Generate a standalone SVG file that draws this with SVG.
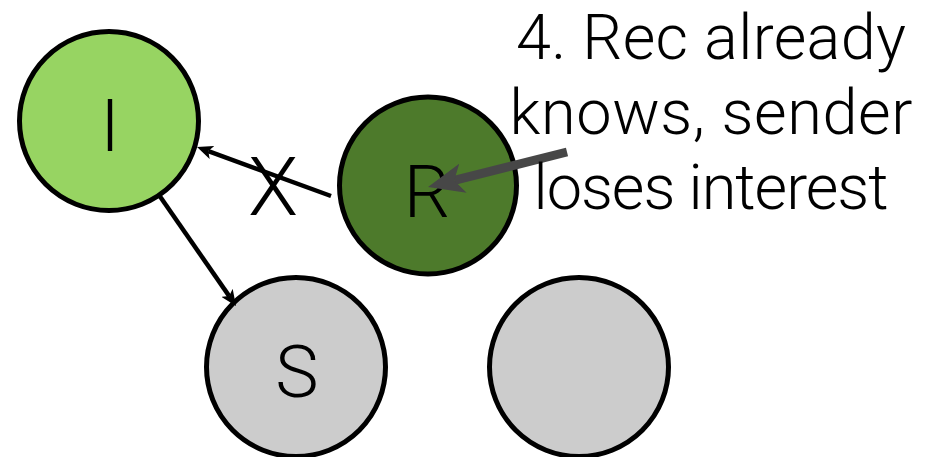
<svg xmlns="http://www.w3.org/2000/svg" width="927" height="457" viewBox="0 0 927 457">
  <defs>
    <style>
      .node { stroke: #000; stroke-width: 5; }
      .label { font-family: Roboto, "Liberation Sans", Arial, sans-serif; font-weight: 300; font-size: 73px; fill: #000; text-anchor: middle; }
      .note { font-family: Roboto, "Liberation Sans", Arial, sans-serif; font-weight: 300; font-size: 63px; fill: #000; text-anchor: middle; }
      .edge { stroke: #000; stroke-width: 4.5; fill: none; }
      .pointer { stroke: #474747; stroke-width: 9; fill: none; }
    </style>
    <marker id="head" markerUnits="userSpaceOnUse" markerWidth="16" markerHeight="14" viewBox="0 0 16 14" refX="4" refY="7" orient="auto">
      <path d="M16,7 L0,0 L4,7 L0,14 Z" fill="#000"/>
    </marker>
    <marker id="head-gray" markerUnits="userSpaceOnUse" markerWidth="36" markerHeight="30" viewBox="0 0 36 30" refX="9" refY="15" orient="auto">
      <path d="M36,15 L0,0 L9,15 L0,30 Z" fill="#474747"/>
    </marker>
  </defs>

  <g id="node-I">
    <circle class="node" cx="109" cy="121" r="89.5" fill="#97d462"/>
    <text class="label" x="110" y="151">I</text>
  </g>

  <g id="node-R">
    <circle class="node" cx="428" cy="185.5" r="88.5" fill="#4d7a2b"/>
    <text class="label" x="427" y="217">R</text>
  </g>

  <g id="node-S">
    <circle class="node" cx="296" cy="367" r="89.5" fill="#cccccc"/>
    <text class="label" x="297" y="397">S</text>
  </g>

  <g id="node-empty">
    <circle class="node" cx="579" cy="367" r="89.5" fill="#cccccc"/>
  </g>

  <g id="connectors">
    <line class="edge" x1="331" y1="196" x2="208.3" y2="151.1" marker-end="url(#head)"/>
    <line class="edge" x1="159" y1="195" x2="229.2" y2="296.1" marker-end="url(#head)"/>
    <text class="label" x="273" y="215" style="font-size:82px">X</text>
  </g>

  <g id="note">
    <line class="pointer" x1="567" y1="152" x2="454.2" y2="180.4" marker-end="url(#head-gray)"/>
    <text class="note" x="711" y="59" textLength="390" lengthAdjust="spacing">4. Rec already</text>
    <text class="note" x="711" y="134" textLength="403" lengthAdjust="spacing">knows, sender</text>
    <text class="note" x="711" y="209" textLength="355" lengthAdjust="spacing">loses interest</text>
  </g>
</svg>
